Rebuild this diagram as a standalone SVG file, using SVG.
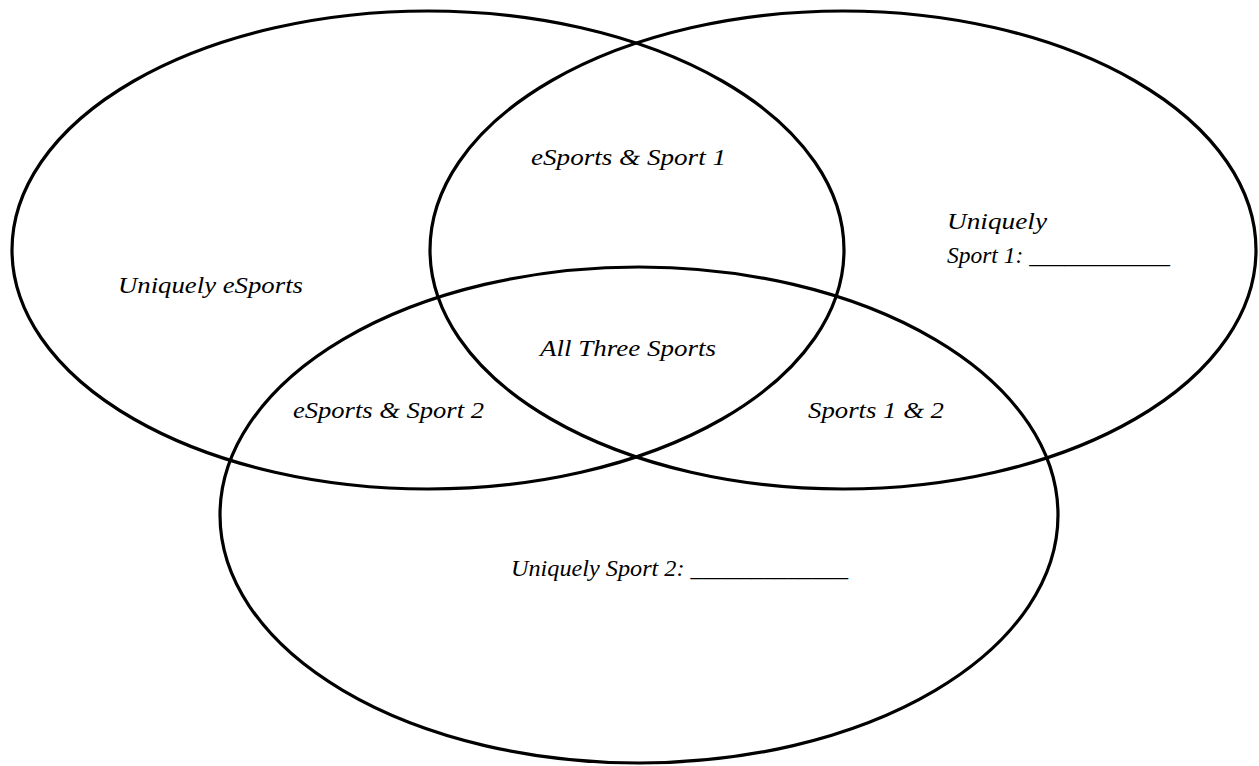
<svg xmlns="http://www.w3.org/2000/svg" width="1259" height="766" viewBox="0 0 1259 766">
<style>
.c{fill:none;stroke:#000;stroke-width:3.2}
.t{font-family:"Liberation Serif","DejaVu Serif",serif;font-style:italic;font-size:24px;fill:#000}
</style>
<rect width="1259" height="766" fill="#fff"/>
<g id="connectors"></g>
<g id="esports"><ellipse class="c" cx="428" cy="250" rx="416" ry="239"/></g>
<g id="sport1"><ellipse class="c" cx="843" cy="250" rx="413" ry="239"/></g>
<g id="sport2"><ellipse class="c" cx="639" cy="515" rx="419" ry="248"/></g>
<g id="labels">
<text class="t" x="531" y="165" textLength="195" lengthAdjust="spacingAndGlyphs">eSports &amp; Sport 1</text>
<text class="t" x="947" y="229" textLength="100" lengthAdjust="spacingAndGlyphs">Uniquely</text>
<text class="t" x="947" y="263" textLength="223" lengthAdjust="spacingAndGlyphs">Sport 1: ____________</text>
<text class="t" x="118" y="293" textLength="185" lengthAdjust="spacingAndGlyphs">Uniquely eSports</text>
<text class="t" x="540" y="356" textLength="176" lengthAdjust="spacingAndGlyphs">All Three Sports</text>
<text class="t" x="293" y="418" textLength="191" lengthAdjust="spacingAndGlyphs">eSports &amp; Sport 2</text>
<text class="t" x="808" y="418" textLength="136" lengthAdjust="spacingAndGlyphs">Sports 1 &amp; 2</text>
<text class="t" x="511" y="576" textLength="337" lengthAdjust="spacingAndGlyphs">Uniquely Sport 2: _____________</text>
</g>
</svg>
